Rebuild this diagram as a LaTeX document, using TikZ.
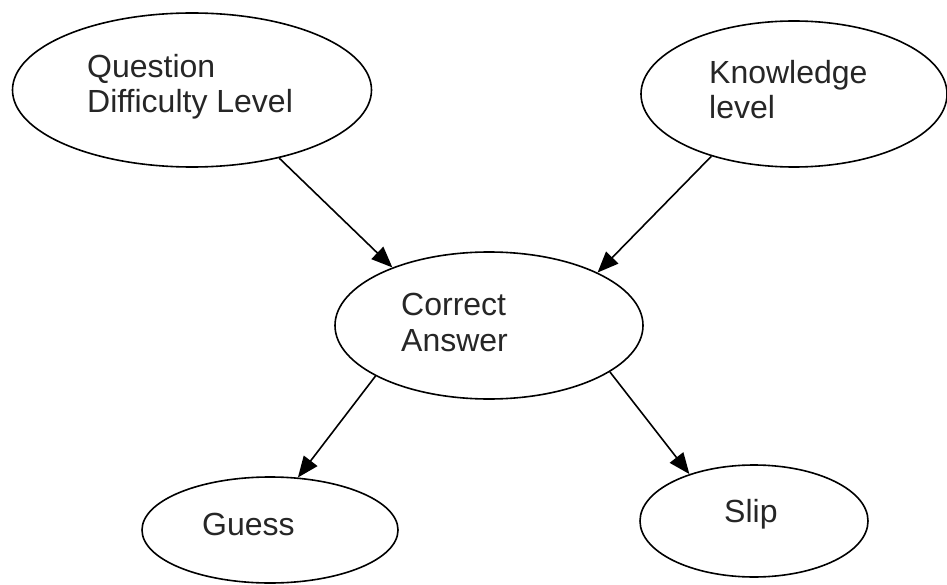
\documentclass[tikz,border=0pt]{standalone}
\usepackage{fontspec}
\setmainfont{Liberation Sans}
\usetikzlibrary{shapes.geometric,arrows.meta}
\begin{document}
\begin{tikzpicture}[x=1pt,y=-1pt,
  oval/.style={ellipse,draw,line width=1.6pt,inner sep=0pt},
  lbl/.style={inner sep=0pt,anchor=base west,align=left,
    font=\fontsize{32}{35.5}\selectfont,text=black!85},
  link/.style={line width=1.6pt,-{Triangle[length=21pt,width=17pt]}}]
\useasboundingbox (0,0) rectangle (947,585);
% ellipses
\node[oval,minimum width=359pt,minimum height=154pt] (q) at (192,90) {};
\node[oval,minimum width=306pt,minimum height=146pt] (k) at (794,94) {};
\node[oval,minimum width=308pt,minimum height=147pt] (c) at (489,325.5) {};
\node[oval,minimum width=256pt,minimum height=106pt] (g) at (270,530) {};
\node[oval,minimum width=228pt,minimum height=112pt] (s) at (754,521) {};
% labels (base anchor sits on the last line)
\node[lbl] (qt) at (87,113) {Question\\Difficulty Level};
\node[lbl] (kt) at (709,119) {Knowledge\\level};
\node[lbl] (ct) at (401,351) {Correct\\Answer};
\node[lbl] (gt) at (202,535) {Guess};
\node[lbl] (st) at (724,522) {Slip};
% dependencies
\draw[link] (q.-38) -- (c.149);
\draw[link] (k.-143) -- (c.26);
\draw[link] (c.204) -- (g.62);
\draw[link] (c.-21) -- (s.144.5);
\end{tikzpicture}
\end{document}
